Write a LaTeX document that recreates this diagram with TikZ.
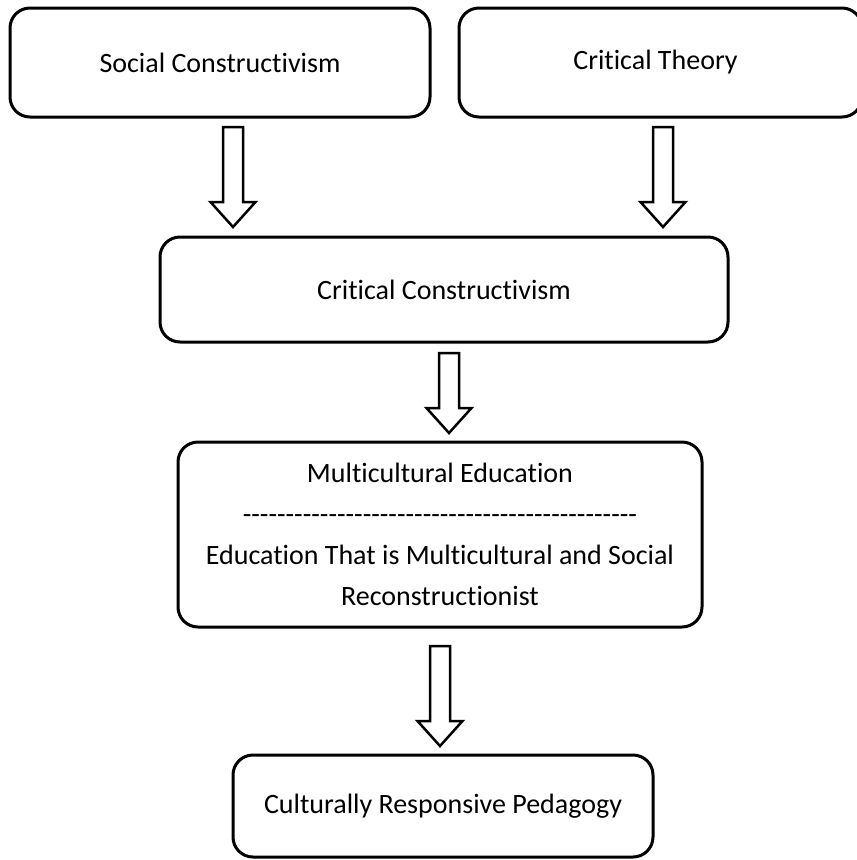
\documentclass[tikz,border=0pt]{standalone}
\usepackage{fontspec}
\setmainfont{Carlito}[RawFeature={-liga;-clig;-calt;-dlig;-rlig}]
\newfontfamily\hyfont{Carlito}
\newcommand\bk{\kern0pt}
\usetikzlibrary{calc}
\begin{document}
\begin{tikzpicture}[x=1pt,y=-1pt,
  box/.style={draw,line width=3pt,rounded corners=20pt,align=center,inner sep=0pt,
    font=\fontsize{28}{41}\selectfont},
  blockarrow/.style={draw,line width=2.5pt,line join=miter,
    to path={let \p1=(\tikztostart), \p2=(\tikztotarget) in
      (\x1-10pt,\y1) -- (\x1+10pt,\y1) -- (\x1+10pt,\y2+25pt) -- (\x1+22.5pt,\y2+25pt)
      -- (\x2,\y2) -- (\x1-22.5pt,\y2+25pt) -- (\x1-10pt,\y2+25pt) -- cycle}}]
\useasboundingbox (0,0) rectangle (857,860);
\clip (0,0) rectangle (857,860);
\node[box,minimum width=420pt,minimum height=109pt] (sc) at (220,62.5) {Social Construct\bk ivism};
\node[box,minimum width=403pt,minimum height=109pt] (ct) at (660.5,62.5) {Crit\bk ical Theory\kern10pt};
\node[box,minimum width=568pt,minimum height=105pt] (cc) at (444,289.5) {Crit\bk ical Construct\bk ivism};
\node[box,minimum width=524pt,minimum height=185pt] (me) at (440,534.5)
  {Multicultural Educat\bk ion\\{\hyfont ----------------------------------------------}\\Educat\bk ion That is Multicultural and Social\\Reconstruct\bk ionist};
\node[box,minimum width=420pt,minimum height=102pt] (crp) at (443,806) {Culturally Responsive Pedagogy};
\coordinate (a1t) at (233,127); \coordinate (a1b) at (233,227);
\coordinate (a2t) at (663,127); \coordinate (a2b) at (663,227);
\coordinate (a3t) at (449,353); \coordinate (a3b) at (449,433);
\coordinate (a4t) at (440,646); \coordinate (a4b) at (440,746);
\draw[blockarrow] (a1t) to (a1b);
\draw[blockarrow] (a2t) to (a2b);
\draw[blockarrow] (a3t) to (a3b);
\draw[blockarrow] (a4t) to (a4b);
\end{tikzpicture}
\end{document}
